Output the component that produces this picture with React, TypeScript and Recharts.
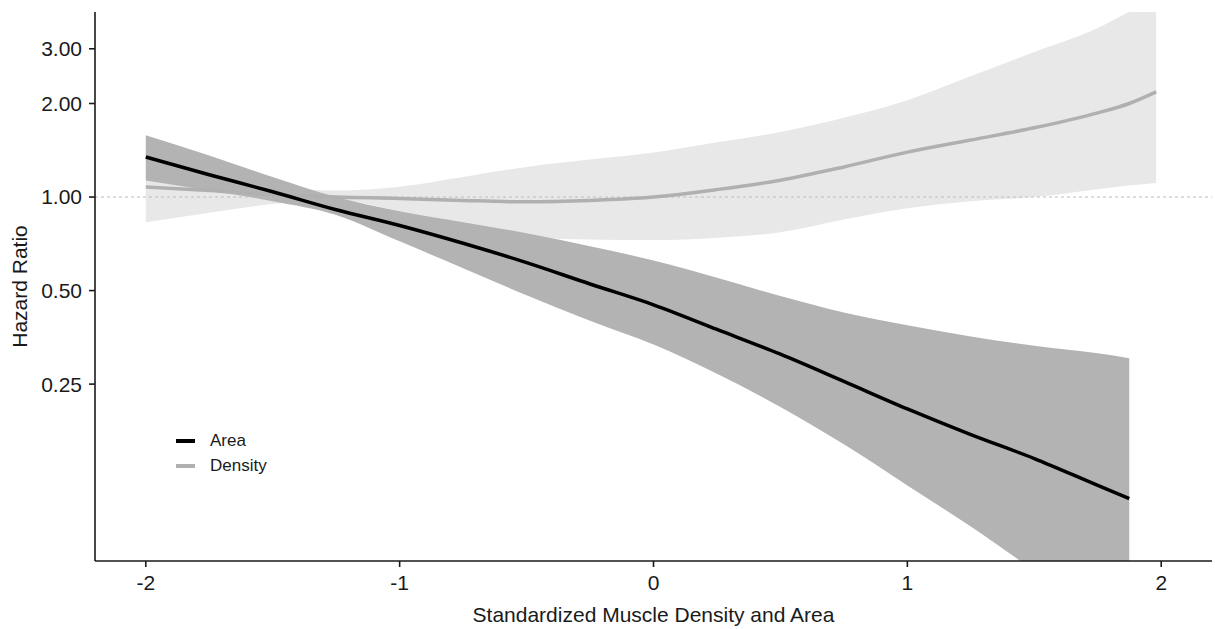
import { Area, ComposedChart, Line, ReferenceLine, XAxis, YAxis } from "recharts"

// standardized x positions
const xs = [-2, -1.75, -1.5, -1.25, -1, -0.75, -0.5, -0.25, 0, 0.25, 0.5, 0.75, 1, 1.25, 1.5, 1.75, 1.874, 1.98]

// hazard ratio estimates (null where the curve stops)
const areaHR = [1.345, 1.18, 1.04, 0.91, 0.81, 0.71, 0.615, 0.525, 0.45, 0.375, 0.312, 0.255, 0.208, 0.172, 0.144, 0.118, 0.107, null]
const areaHi = [1.58, 1.36, 1.16, 1.0, 0.9, 0.83, 0.765, 0.695, 0.625, 0.55, 0.48, 0.425, 0.387, 0.356, 0.332, 0.314, 0.303, null]
const areaLo = [1.13, 1.05, 0.97, 0.876, 0.72, 0.59, 0.483, 0.4, 0.335, 0.27, 0.211, 0.16, 0.118, 0.087, 0.063, 0.048, 0.043, null]

const densityHR = [1.077, 1.05, 1.02, 1.0, 0.99, 0.975, 0.965, 0.975, 1.0, 1.057, 1.133, 1.25, 1.395, 1.526, 1.67, 1.866, 2.0, 2.18]
const densityHi = [1.14, 1.1, 1.07, 1.05, 1.08, 1.16, 1.25, 1.32, 1.39, 1.5, 1.62, 1.8, 2.05, 2.45, 2.93, 3.5, 3.95, 4.4]
const densityLo = [0.83, 0.89, 0.95, 0.975, 0.9, 0.8, 0.745, 0.73, 0.727, 0.74, 0.77, 0.846, 0.92, 0.97, 1.0, 1.06, 1.09, 1.11]

const xTicks = [-2, -1, 0, 1, 2]
const yTicks = [0.25, 0.5, 1, 2, 3]

const data = xs.map((x, i) => ({
  x,
  area: areaHR[i],
  areaBand: areaLo[i] == null ? null : [areaLo[i], areaHi[i]],
  density: densityHR[i],
  densityBand: [densityLo[i], densityHi[i]],
}))

const font = "'Liberation Sans', Arial, sans-serif"
const ink = "#1a1a1a"

export default function App() {
  return (
    <div style={{ position: "absolute", left: 0, top: 0, width: 1215, height: 629, background: "#fff", fontFamily: font }}>
      <ComposedChart width={1215} height={629} data={data} margin={{ top: 12, right: 3, bottom: 0, left: 0 }}>
        <XAxis
          dataKey="x"
          type="number"
          domain={[-2.2, 2.2]}
          ticks={xTicks}
          height={68}
          stroke={ink}
          strokeWidth={1.6}
          tickSize={6}
          tickMargin={8}
          tick={{ fontSize: 21, fill: ink, fontFamily: font }}
          label={{ value: "Standardized Muscle Density and Area", position: "insideBottom", offset: 7, style: { fontSize: 21, fill: ink, fontFamily: font } }}
        />
        <YAxis
          scale="log"
          domain={[0.0674, 3.94]}
          allowDataOverflow
          ticks={yTicks}
          tickFormatter={(v: number) => v.toFixed(2)}
          width={95}
          stroke={ink}
          strokeWidth={1.6}
          tickSize={6}
          tickMargin={7}
          tick={{ fontSize: 21, fill: ink, fontFamily: font }}
          label={{ value: "Hazard Ratio", angle: -90, position: "insideLeft", offset: 20, style: { textAnchor: "middle", fontSize: 21, fill: ink, fontFamily: font } }}
        />
        <Area type="monotone" dataKey="densityBand" stroke="none" fill="#e8e8e8" fillOpacity={1} isAnimationActive={false} />
        <Area type="monotone" dataKey="areaBand" stroke="none" fill="#b3b3b3" fillOpacity={1} isAnimationActive={false} />
        <ReferenceLine y={1} stroke="#bdbdbd" strokeDasharray="3 3" strokeWidth={1} />
        <Line type="monotone" dataKey="density" stroke="#b0b0b0" strokeWidth={3.5} dot={false} isAnimationActive={false} />
        <Line type="monotone" dataKey="area" stroke="#000" strokeWidth={3.5} dot={false} isAnimationActive={false} />
      </ComposedChart>
      <div style={{ position: "absolute", left: 176, top: 428, fontSize: 17, color: ink, lineHeight: "25px" }}>
        <div style={{ display: "flex", alignItems: "center" }}>
          <span style={{ display: "inline-block", width: 19, height: 4, background: "#000", marginRight: 15 }} />
          Area
        </div>
        <div style={{ display: "flex", alignItems: "center" }}>
          <span style={{ display: "inline-block", width: 19, height: 4, background: "#b0b0b0", marginRight: 15 }} />
          Density
        </div>
      </div>
    </div>
  )
}
